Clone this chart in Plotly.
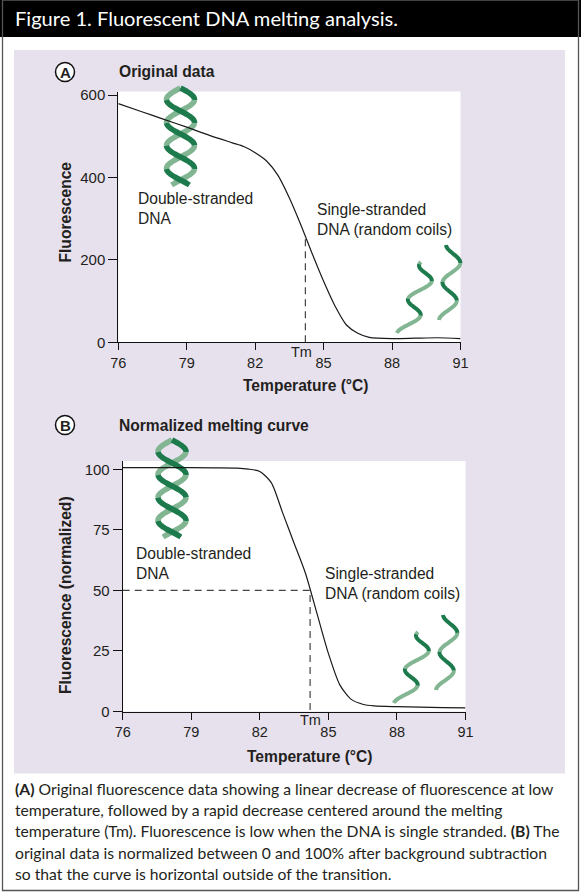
import numpy as np
import plotly.graph_objects as go

W, H = 581, 893

# ---------------- data ----------------
temp_a = [76, 77, 78, 79, 80, 81, 81.5, 82, 82.5, 83, 83.5, 84, 84.5, 85, 85.5, 86, 86.5, 87, 88, 89, 90, 91]
fluor_a = [579, 560, 541, 522, 502, 484, 475, 460, 440, 405, 350, 285, 215, 148, 88, 42, 22, 12, 9, 10, 11, 9]

temp_b = [76, 78, 80, 81, 81.5, 82, 82.5, 83, 83.5, 84, 84.5, 85, 85.5, 86, 86.5, 87, 88, 89, 90, 91]
fluor_b = [100.7, 100.7, 100.6, 100.5, 100.1, 99.1, 94.5, 82, 69.5, 57, 40.5, 24, 11, 5, 3, 2.3, 2, 1.8, 1.6, 1.5]

tm = 84.2
half_level = 50

x_ticks = [76, 79, 82, 85, 88, 91]
ya_ticks = [0, 200, 400, 600]
yb_ticks = [0, 25, 50, 75, 100]

caption_lines = [
    "<b>(A)</b> Original fluorescence data showing a linear decrease of fluorescence at low",
    "temperature, followed by a rapid decrease centered around the melting",
    "temperature (Tm). Fluorescence is low when the DNA is single stranded. <b>(B)</b> The",
    "original data is normalized between 0 and 100% after background subtraction",
    "so that the curve is horizontal outside of the transition.",
]

# ---------------- styling ----------------
PF = "Liberation Sans, Arial, sans-serif"
CF = "Lato, Open Sans, sans-serif"
TXT = "#231f20"
LAV = "#e7e1ee"
DARK_G = "#1c7a4c"
LIGHT_G = "#82b592"


def fx(px):
    return px / W


def fy(py):
    return 1 - py / H


# plot areas in pixels
A_x0, A_x1 = 118.3, 460.5
A_y0, A_ytop = 342.3, 91.5        # pixel of y=0 and top of white area
A_scale = (342.3 - 95.0) / 600.0  # px per unit
A_ymax = (A_y0 - A_ytop) / A_scale

B_x0, B_x1 = 122.7, 465.5
B_y0, B_ytop = 711.5, 461.0
B_scale = (711.5 - 469.3) / 100.0
B_ymax = (B_y0 - B_ytop) / B_scale

fig = go.Figure()

line_style = dict(color="#1a1a1a", width=1.2, shape="spline", smoothing=0.7)
dash_style = dict(color="#444444", width=1.2, dash="7px,5px")

fig.add_trace(go.Scatter(x=temp_a, y=fluor_a, mode="lines", line=line_style,
                         xaxis="x", yaxis="y", hoverinfo="skip", showlegend=False))
tm_fa = float(np.interp(tm, temp_a, fluor_a))
fig.add_trace(go.Scatter(x=[tm, tm], y=[0, tm_fa], mode="lines", line=dash_style,
                         xaxis="x", yaxis="y", hoverinfo="skip", showlegend=False))

fig.add_trace(go.Scatter(x=temp_b, y=fluor_b, mode="lines", line=line_style,
                         xaxis="x2", yaxis="y2", hoverinfo="skip", showlegend=False))
fig.add_trace(go.Scatter(x=[x_ticks[0], tm, tm], y=[half_level, half_level, 0], mode="lines",
                         line=dash_style, xaxis="x2", yaxis="y2", hoverinfo="skip", showlegend=False))

# ---------------- decorative shapes ----------------
shapes = []


def rect(x0, y0, x1, y1, **kw):
    shapes.append(dict(type="rect", xref="paper", yref="paper",
                       x0=fx(x0), x1=fx(x1), y0=fy(y1), y1=fy(y0), **kw))


rect(14, 50, 565, 773.5, fillcolor=LAV, line=dict(width=0), layer="below")
rect(A_x0, A_ytop, A_x1, A_y0, fillcolor="white", line=dict(width=0), layer="below")
rect(B_x0, B_ytop, B_x1, B_y0, fillcolor="white", line=dict(width=0), layer="below")


def path_of(pts):
    return "M" + " L".join(f"{fx(x):.5f},{fy(y):.5f}" for x, y in pts)


def split_segments(xs, ys, front):
    segs = []
    cur = [(xs[0], ys[0])]
    flag = front[0]
    for i in range(1, len(xs)):
        cur.append((xs[i], ys[i]))
        if front[i] != flag:
            segs.append((flag, cur))
            cur = [(xs[i], ys[i])]
            flag = front[i]
    segs.append((flag, cur))
    return segs


def add_helix(cx, ytop, ybot, amp, period, phase, width):
    ys = np.arange(ytop, ybot + 0.01, 0.5)
    back, front_l = [], []
    for s in (0.0, np.pi):
        th = 2 * np.pi * (ys - ytop) / period + phase + s
        xs = cx + amp * np.sin(th)
        fr = np.cos(th) > 0
        for flag, seg in split_segments(xs, ys, fr):
            (front_l if flag else back).append(seg)
    for seg in back:
        shapes.append(dict(type="path", xref="paper", yref="paper", path=path_of(seg),
                           line=dict(color=LIGHT_G, width=width), layer="below"))
    for seg in front_l:
        shapes.append(dict(type="path", xref="paper", yref="paper", path=path_of(seg),
                           line=dict(color=DARK_G, width=width), layer="below"))


def add_coil(xb, yb, xt, yt, amp, period, width):
    length = np.hypot(xt - xb, yt - yb)
    t = np.linspace(0, 1, 160)
    th = 2 * np.pi * length * t / period - np.pi / 2
    xs = xb + (xt - xb) * t + amp * np.sin(th)
    ys = yb + (yt - yb) * t
    dark = np.cos(th) < 0
    segs = split_segments(xs, ys, dark)
    for flag, seg in segs:
        if not flag:
            shapes.append(dict(type="path", xref="paper", yref="paper", path=path_of(seg),
                               line=dict(color=LIGHT_G, width=width), layer="above"))
    for flag, seg in segs:
        if flag:
            shapes.append(dict(type="path", xref="paper", yref="paper", path=path_of(seg),
                               line=dict(color=DARK_G, width=width), layer="above"))


# double helices
add_helix(180.5, 88, 185, 14, 46, 0.0, 5.5)
add_helix(172.0, 440, 537, 14, 46, 0.0, 5.5)
# single strands (random coils)
add_coil(406, 333, 429, 262, 9, 36, 4)
add_coil(447, 320, 454, 245, 8, 38, 4)
add_coil(403, 703, 426, 632, 9, 36, 4)
add_coil(444, 690, 451, 615, 8, 38, 4)

# header bar and frame
rect(0, 0, W, 37, fillcolor="black", line=dict(width=0), layer="below")
rect(2.5, 0, 578.5, 890.5, fillcolor="rgba(0,0,0,0)", line=dict(color="#555555", width=1.3), layer="above")

# circled panel letters
for cy in (72, 425):
    shapes.append(dict(type="circle", xref="paper", yref="paper",
                       x0=fx(55.5), x1=fx(74.5), y0=fy(cy + 9.5), y1=fy(cy - 9.5),
                       fillcolor="white", line=dict(color="#111111", width=1.5), layer="above"))

# ---------------- annotations ----------------
ann = []


def text(x, y, s, size, color=TXT, family=PF, xanchor="left", yanchor="middle", angle=0, align="left"):
    ann.append(dict(x=fx(x), y=fy(y), xref="paper", yref="paper", text=s, showarrow=False,
                    font=dict(family=family, size=size, color=color), xanchor=xanchor,
                    yanchor=yanchor, textangle=angle, align=align, borderpad=0))


text(14, 18.5, "Figure 1. Fluorescent DNA melting analysis.", 20.1, color="white", family=CF)

text(65, 72.5, "<b>A</b>", 15, xanchor="center")
text(65, 426, "<b>B</b>", 15, xanchor="center")
text(117.5, 71.5, "<b>Original data</b>", 15.6)
text(117.5, 425, "<b>Normalized melting curve</b>", 15.6)

text(65, 212.5, "<b>Fluorescence</b>", 15.6, xanchor="center", angle=-90)
text(65, 595, "<b>Fluorescence (normalized)</b>", 15.6, xanchor="center", angle=-90)
text(306, 385, "<b>Temperature (°C)</b>", 15.6, xanchor="center")
text(310, 756, "<b>Temperature (°C)</b>", 15.6, xanchor="center")

text(136.5, 208.5, "Double-stranded<br>DNA", 15.6)
text(316, 220, "Single-stranded<br>DNA (random coils)", 15.6)
text(135, 563, "Double-stranded<br>DNA", 15.6)
text(324, 583.5, "Single-stranded<br>DNA (random coils)", 15.6)

text(301.5, 352, "Tm", 14.5, xanchor="center")
text(310.5, 720, "Tm", 14.5, xanchor="center")

for i, line in enumerate(caption_lines):
    text(14, 789 + i * 21.2, line, 15.7, family=CF)

# ---------------- axes ----------------
xtickfont = dict(family=PF, size=14.5, color=TXT)
ytickfont = dict(family=PF, size=15, color=TXT)
common_x = dict(tickmode="array", tickvals=x_ticks, ticks="outside", ticklen=7, tickcolor="#111",
                tickwidth=1, showline=True, linecolor="#111", linewidth=1, showgrid=False,
                zeroline=False, tickfont=xtickfont, range=[x_ticks[0], x_ticks[-1]], fixedrange=True,
                automargin=False)
common_y = dict(tickmode="array", ticks="outside", ticklen=9, tickcolor="#111", tickwidth=1,
                showline=True, linecolor="#111", linewidth=1, showgrid=False, zeroline=False,
                tickfont=ytickfont, fixedrange=True, automargin=False)

fig.update_layout(
    width=W, height=H,
    margin=dict(l=0, r=0, t=0, b=0, pad=0),
    paper_bgcolor="white",
    plot_bgcolor="rgba(0,0,0,0)",
    showlegend=False,
    xaxis=dict(domain=[fx(A_x0), fx(A_x1)], anchor="y", **common_x),
    yaxis=dict(domain=[fy(A_y0), fy(A_ytop)], anchor="x", range=[0, A_ymax], tickvals=ya_ticks, **common_y),
    xaxis2=dict(domain=[fx(B_x0), fx(B_x1)], anchor="y2", **common_x),
    yaxis2=dict(domain=[fy(B_y0), fy(B_ytop)], anchor="x2", range=[0, B_ymax], tickvals=yb_ticks, **common_y),
    shapes=shapes,
    annotations=ann,
)

post = (
    "var d=document.getElementById('{plot_id}');"
    "var h=document.documentElement, b=document.body;"
    "h.style.margin='0';h.style.padding='0';h.style.overflow='hidden';"
    "b.style.margin='0';b.style.padding='0';b.style.overflow='hidden';"
    "d.style.position='fixed';d.style.left='0px';d.style.top='0px';"
)
fig.write_html("out.html", config={"displayModeBar": False}, post_script=post)
